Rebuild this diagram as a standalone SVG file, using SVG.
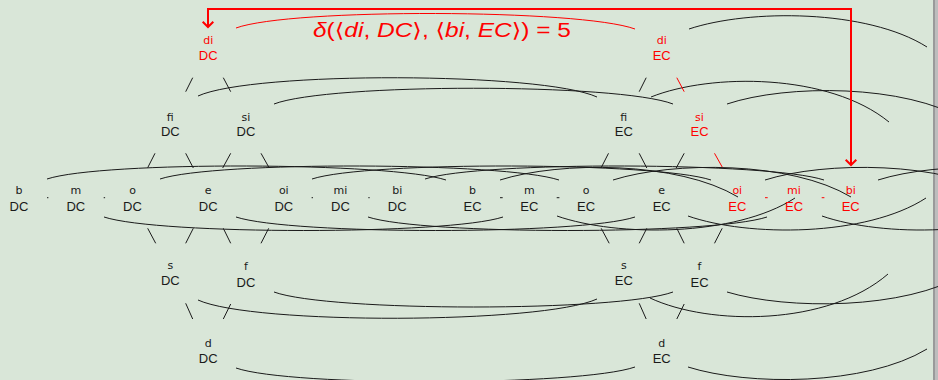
<svg xmlns="http://www.w3.org/2000/svg" width="938" height="380" viewBox="0 0 938 380">
<style>
  .bg{fill:#d9e6d8}
  .n{font-family:"DejaVu Sans",sans-serif;font-size:11px;text-anchor:middle;fill:#1a1a1a}
  .s{font-family:"Liberation Sans",Arial,sans-serif;font-size:13px;text-anchor:middle;fill:#1a1a1a}
  .red .n,.red .s{fill:#ff0000}
  .arc{fill:none;stroke:#1a1a1a;stroke-width:1}
  .sl{fill:none;stroke:#1a1a1a;stroke-width:1}
  .rd{stroke:#ff0000}
  .math{font-family:"Liberation Sans","DejaVu Sans",sans-serif;font-size:20px;fill:#ff0000}
  .it{font-style:italic}
</style>
<defs>
  <marker id="ah" markerUnits="userSpaceOnUse" markerWidth="14" markerHeight="14" viewBox="-7 -7 14 14" refX="0" refY="0" orient="auto-start-reverse" overflow="visible">
    <path d="M-5.3,-5.3 L0,0 L-5.3,5.3" fill="none" stroke="#ff0000" stroke-width="2"/>
  </marker>
</defs>
<rect class="bg" x="0" y="0" width="938" height="380"/>
<rect x="933" y="0" width="2" height="380" fill="#9a9a9a"/>
<rect x="935" y="0" width="3" height="380" fill="#bdbdbd"/>

<g id="connectors">
  <!-- DC to EC arcs -->
  <path class="arc rd" d="M236 28 C291 8, 580 9, 635 29"/>
  <path class="arc" d="M198 96 C253 71, 542 72, 597 97"/>
  <path class="arc" d="M274 104 C329 83, 618 83, 673 104"/>
  <path class="arc" d="M47 179 C102 161, 391 162, 446 180"/>
  <path class="arc" d="M160 179 C215 161, 504 162, 559 180"/>
  <path class="arc" d="M312 179 C367 161, 656 162, 711 180"/>
  <path class="arc" d="M425 179 C480 161, 769 162, 824 180"/>
  <path class="arc" d="M104 217 C159 235, 448 235, 503 217"/>
  <path class="arc" d="M236 217 C291 235, 580 235, 635 217"/>
  <path class="arc" d="M368 217 C423 235, 712 235, 767 217"/>
  <path class="arc" d="M198 300 C253 325, 542 324, 597 299"/>
  <path class="arc" d="M274 292 C329 312, 618 312, 673 292"/>
  <path class="arc" d="M236 368 C291 387, 580 386, 635 367"/>
  <!-- EC to next arcs -->
  <path class="arc" d="M689 29 C749 9, 867 9, 927 47"/>
  <path class="arc" d="M651 97 C711 73, 829 73, 889 122"/>
  <path class="arc" d="M727 104 C787 84, 905 84, 965 120"/>
  <path class="arc" d="M650 298 C710 326, 828 326, 888 274"/>
  <path class="arc" d="M727 292 C787 310, 905 310, 965 274"/>
  <path class="arc" d="M688 367 C748 386, 866 386, 927 349"/>
  <path class="arc" d="M500 180 C560 161, 678 161, 738 197"/>
  <path class="arc" d="M613 180 C673 161, 791 161, 851 197"/>
  <path class="arc" d="M765 180 C825 161, 943 161, 1003 197"/>
  <path class="arc" d="M878 180 C938 161, 1056 161, 1116 197"/>
  <path class="arc" d="M557 216 C617 237, 735 237, 795 198"/>
  <path class="arc" d="M688 216 C748 237, 866 237, 926 198"/>
  <path class="arc" d="M822 216 C882 237, 1000 237, 1060 198"/>
  <!-- DC slashes -->
  <path class="sl" d="M192.7 77.7 L185.7 91.7 M223.3 77.7 L230.7 91.7 M155 153.3 L147.7 167.7 M185.7 153.3 L193.3 168 M230.7 153.3 L222.7 168 M261 153.3 L268.7 167 M147.7 228.3 L155.7 243.3 M193.3 228.3 L185.7 243.3 M223.3 228.3 L230.7 243.3 M268.7 228.3 L261 243.3 M185.7 303.3 L192.7 319 M230.7 304 L223.3 319"/>
  <!-- EC slashes -->
  <path class="sl" d="M646.2 77.7 L639.2 91.7 M608.5 153.3 L601.2 167.7 M639.2 153.3 L646.8 168 M684.2 153.3 L676.2 168 M601.2 228.3 L609.2 243.3 M646.8 228.3 L639.2 243.3 M676.8 228.3 L684.2 243.3 M722.2 228.3 L714.5 243.3 M639.2 303.3 L646.2 319 M684.2 304 L676.8 319"/>
  <path class="sl rd" d="M676.8 77.7 L684.2 91.7 M714.5 153.3 L722.2 167"/>
  <!-- short edges in the middle row -->
  <path class="sl" d="M47 197.7 H48.4 M103.7 197.7 H105.1 M311.6 197.7 H313 M368.3 197.7 H369.7 M500 197.7 H502.7 M556.7 197.7 H559.4"/>
  <path class="sl rd" d="M765 197.7 H767.7 M821.7 197.7 H824.4"/>
  <!-- distance bracket -->
  <path d="M851 165 V9 H208 V27" fill="none" stroke="#ff0000" stroke-width="2" marker-start="url(#ah)" marker-end="url(#ah)"/>
</g>

<text class="math" x="313" y="37" textLength="258" lengthAdjust="spacingAndGlyphs"><tspan class="it">δ</tspan>(⟨<tspan class="it">di</tspan>, <tspan class="it">DC</tspan>⟩, ⟨<tspan class="it">bi</tspan>, <tspan class="it">EC</tspan>⟩) = 5</text>

<g id="di-DC" class="red"><text class="n" x="208.2" y="44">di</text><text class="s" x="208.2" y="59.5">DC</text></g>
<g id="fi-DC"><text class="n" x="170.3" y="120.5">fi</text><text class="s" x="170.3" y="136">DC</text></g>
<g id="si-DC"><text class="n" x="246" y="120.5">si</text><text class="s" x="246" y="136">DC</text></g>
<g id="b-DC"><text class="n" x="19" y="193.5">b</text><text class="s" x="19" y="210.5">DC</text></g>
<g id="m-DC"><text class="n" x="75.8" y="193.5">m</text><text class="s" x="75.8" y="210.5">DC</text></g>
<g id="o-DC"><text class="n" x="132.5" y="193.5">o</text><text class="s" x="132.5" y="210.5">DC</text></g>
<g id="e-DC"><text class="n" x="208.2" y="193.5">e</text><text class="s" x="208.2" y="210.5">DC</text></g>
<g id="oi-DC"><text class="n" x="283.8" y="193.5">oi</text><text class="s" x="283.8" y="210.5">DC</text></g>
<g id="mi-DC"><text class="n" x="340.5" y="193.5">mi</text><text class="s" x="340.5" y="210.5">DC</text></g>
<g id="bi-DC"><text class="n" x="397.2" y="193.5">bi</text><text class="s" x="397.2" y="210.5">DC</text></g>
<g id="s-DC"><text class="n" x="170.3" y="268.5">s</text><text class="s" x="170.3" y="285.3">DC</text></g>
<g id="f-DC"><text class="n" x="246" y="270.3">f</text><text class="s" x="246" y="286.7">DC</text></g>
<g id="d-DC"><text class="n" x="208.2" y="346.5">d</text><text class="s" x="208.2" y="362.5">DC</text></g>

<g id="di-EC" class="red"><text class="n" x="661.7" y="44">di</text><text class="s" x="661.7" y="59.5">EC</text></g>
<g id="fi-EC"><text class="n" x="623.8" y="120.5">fi</text><text class="s" x="623.8" y="136">EC</text></g>
<g id="si-EC" class="red"><text class="n" x="699.5" y="120.5">si</text><text class="s" x="699.5" y="136">EC</text></g>
<g id="b-EC"><text class="n" x="472.5" y="193.5">b</text><text class="s" x="472.5" y="210.5">EC</text></g>
<g id="m-EC"><text class="n" x="529.3" y="193.5">m</text><text class="s" x="529.3" y="210.5">EC</text></g>
<g id="o-EC"><text class="n" x="586" y="193.5">o</text><text class="s" x="586" y="210.5">EC</text></g>
<g id="e-EC"><text class="n" x="661.7" y="193.5">e</text><text class="s" x="661.7" y="210.5">EC</text></g>
<g id="oi-EC" class="red"><text class="n" x="737.3" y="193.5">oi</text><text class="s" x="737.3" y="210.5">EC</text></g>
<g id="mi-EC" class="red"><text class="n" x="794" y="193.5">mi</text><text class="s" x="794" y="210.5">EC</text></g>
<g id="bi-EC" class="red"><text class="n" x="850.7" y="193.5">bi</text><text class="s" x="850.7" y="210.5">EC</text></g>
<g id="s-EC"><text class="n" x="623.8" y="268.5">s</text><text class="s" x="623.8" y="285.3">EC</text></g>
<g id="f-EC"><text class="n" x="699.5" y="270.3">f</text><text class="s" x="699.5" y="286.7">EC</text></g>
<g id="d-EC"><text class="n" x="661.7" y="346.5">d</text><text class="s" x="661.7" y="362.5">EC</text></g>
</svg>
